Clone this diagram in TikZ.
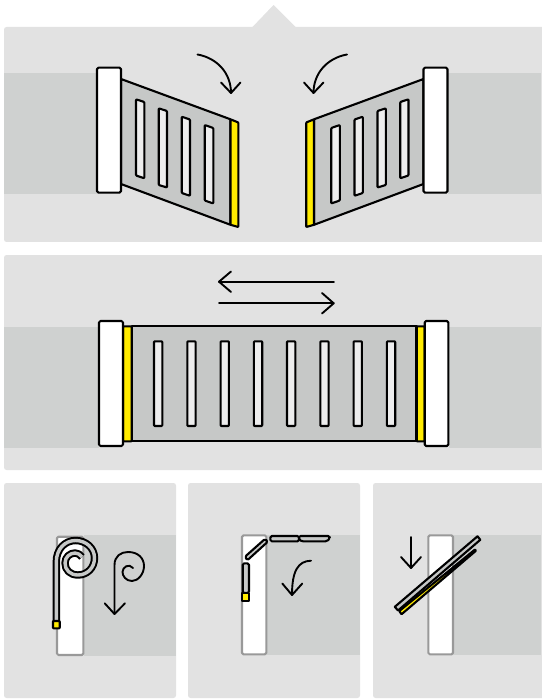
\documentclass[tikz,border=0pt]{standalone}
\begin{document}
\definecolor{panelc}{HTML}{E2E2E2}
\definecolor{roadc}{HTML}{CFD1D0}
\definecolor{leafc}{HTML}{C6C8C7}
\definecolor{slotc}{HTML}{EDEDED}
\definecolor{goldc}{HTML}{FFEB00}
\definecolor{postc}{HTML}{999999}
\begin{tikzpicture}[x=1pt,y=-1pt,line join=round,
  panel/.style={fill=panelc,draw=none,rounded corners=2.5pt},
  road/.style={fill=roadc,draw=none},
  post/.style={fill=white,draw=black,line width=2.1pt,rounded corners=1.5pt},
  lightpost/.style={fill=white,draw=postc,line width=2.1pt,rounded corners=1.5pt},
  leaf/.style={fill=leafc,draw=black,line width=2.1pt},
  slot/.style={fill=slotc,draw=black,line width=2.1pt,rounded corners=0.8pt},
  gold/.style={fill=goldc,draw=black,line width=2.1pt,rounded corners=0.6pt},
  motion/.style={draw=black,line width=1.9pt,fill=none,line cap=round},
  curtainouter/.style={draw=black,line width=7.4pt,line cap=butt,fill=none},
  curtaininner/.style={draw=leafc,line width=3.4pt,line cap=butt,fill=none}]
\useasboundingbox (0,0) rectangle (541,700);
% panels
\fill[panelc] (252,27.5) -- (273.5,5) -- (296,27.5) -- cycle;
\path[panel] (4,27) rectangle (560,242);
\path[panel] (4,255) rectangle (560,470);
\path[panel] (4,483) rectangle (176,698);
\path[panel] (188,483) rectangle (360,698);
\path[panel] (373,483) rectangle (560,698);
% panel 1
\path[road] (4,73) rectangle (97,194);
\path[road] (448,73) rectangle (541,194);
\newcommand{\gateleaf}{%
  \path[leaf] (121,79) -- (230.5,119.3) -- (230.5,224.8) -- (121,184) -- cycle;
  \path[gold] (230.5,119.3) -- (238.3,122.5) -- (238.3,227) -- (230.5,224.8) -- cycle;
  \path[slot] (136,99.3) -- (144.3,102) -- (144.3,178.3) -- (136,175.5) -- cycle;
  \path[slot] (158.7,108.3) -- (167,111) -- (167,187.5) -- (158.7,185) -- cycle;
  \path[slot] (181.7,116.7) -- (190,119.5) -- (190,195.8) -- (181.7,193) -- cycle;
  \path[slot] (204.7,125) -- (213.3,128) -- (213.3,203.5) -- (204.7,200.5) -- cycle;
  \path[post] (97,67.7) rectangle (121,192.7);
  \draw[motion] (197.5,54.5) .. controls (217,58) and (231,73) .. (231,93);
  \draw[motion] (221,82.5) -- (231,93) -- (240.5,82.5);
}
\gateleaf
\begin{scope}[xscale=-1,xshift=-544.5pt]
\gateleaf
\end{scope}
% panel 2
\path[road] (4,327) rectangle (99,448);
\path[road] (449,327) rectangle (541,448);
\path[gold] (123,326.3) rectangle (131.7,441.3);
\path[gold] (416.5,326.3) rectangle (424.7,441.3);
\path[leaf] (131.7,326.3) rectangle (416.5,441.3);
\foreach \sx in {154,187.3,220.6,253.9,287,320.3,353.6,386.9}
  \path[slot] (\sx,341.3) rectangle ++(8.3,84.7);
\path[post] (99,321) rectangle (123,446);
\path[post] (424.7,321) rectangle (448.3,446);
\draw[motion] (334,281.7) -- (219,281.7);
\draw[motion] (231,271.5) -- (219,281.7) -- (231,292);
\draw[motion] (219,303.3) -- (333.7,303.3);
\draw[motion] (322,293) -- (333.7,303.3) -- (322,313.5);
% panel 3 (rolling)
\path[road] (84,535) rectangle (176,656);
\path[lightpost] (57,536.7) rectangle (83.3,655);
\newcommand{\spiralpath}{(56.3,622) -- (56.3,562) .. controls (56.3,549) and (65,540.5) .. (75.5,540.5)
   .. controls (86,540.5) and (94.5,548) .. (94.5,558)
   .. controls (94.5,568) and (87,575) .. (78,575)
   .. controls (70,575) and (65,570) .. (65,563)
   .. controls (65,557) and (70,553) .. (75,553)
   .. controls (78,553) and (80,554.5) .. (82,557)}
\draw[curtainouter] \spiralpath;
\draw[curtaininner] \spiralpath;
\path[gold] (53,621) rectangle (59.7,628.3);
\draw[motion] (114.5,614) -- (114.5,565) .. controls (114.5,556) and (121,552) .. (128,552)
   .. controls (138,552) and (144,558) .. (144,566)
   .. controls (144,574) and (138,581) .. (132,581)
   .. controls (126,581) and (122.5,576) .. (122.5,572)
   .. controls (122.5,567) and (129,563) .. (133,568);
\draw[motion] (104.7,603.3) -- (114.5,614) -- (125,603.3);
% panel 4 (sectional)
\path[road] (266,535) rectangle (360,655);
\path[lightpost] (242,535.3) rectangle (266.3,654.3);
\path[leaf,rounded corners=1.5pt] (242.7,563.3) rectangle (249,593);
\path[gold,rounded corners=0] (242,592.7) rectangle (249.3,600.7);
\path[leaf,rounded corners=1.5pt] (245,556.7) -- (265,538.9) -- (267.8,541.7) -- (247.3,560.3) -- cycle;
\path[leaf,rounded corners=1.5pt] (270.3,536) rectangle (299,541.3);
\path[leaf,rounded corners=1.5pt] (299,536) -- (329.7,536) -- (329.7,538.5) -- (327,541.3) -- (301.5,541.3) -- (299,539.5) -- cycle;
\draw[motion] (311,560.7) .. controls (298,561) and (292,571) .. (292,595);
\draw[motion] (282.3,583.5) -- (292,595) -- (302.3,583.5);
% panel 5 (tilting)
\path[road] (452,534.5) rectangle (541,655);
\path[lightpost] (428.3,535.3) rectangle (453,654.3);
\path[gold] (399.3,611) -- (475,549.5) -- (476,550.7) -- (401.5,614.3) -- cycle;
\path[leaf] (394.8,606.8) -- (477.5,536.3) -- (480.3,539.8) -- (398,610.5) -- cycle;
\draw[motion] (411,537) -- (411,568);
\draw[motion] (401,557) -- (411,568) -- (421,557);
\end{tikzpicture}
\end{document}
